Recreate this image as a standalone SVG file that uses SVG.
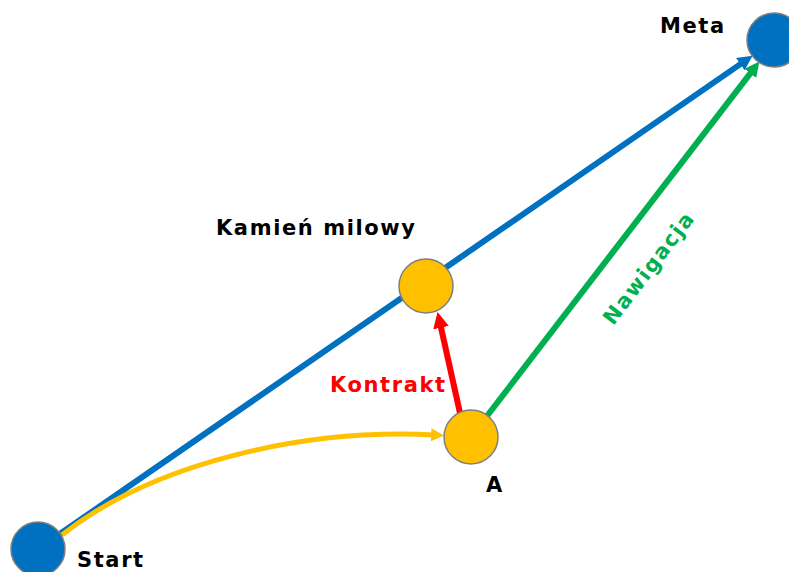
<svg xmlns="http://www.w3.org/2000/svg" width="789" height="572" viewBox="0 0 789 572">
  <style>
    .lbl { font-family: "DejaVu Sans", Verdana, sans-serif; font-weight: bold; font-size: 21px; letter-spacing: 1.6px; }
    .blue-node { fill: #0070C0; stroke: #7F7F7F; stroke-width: 1.5; }
    .gold-node { fill: #FFC000; stroke: #7F7F7F; stroke-width: 1.5; }
    .edge { fill: none; }
  </style>
  <defs>
    <marker id="ah-blue" viewBox="0 0 10 10" refX="3" refY="5" markerUnits="userSpaceOnUse" markerWidth="15" markerHeight="15" orient="auto">
      <path d="M0,0 L10,5 L0,10 z" fill="#0070C0"/>
    </marker>
    <marker id="ah-green" viewBox="0 0 10 10" refX="3" refY="5" markerUnits="userSpaceOnUse" markerWidth="15" markerHeight="15" orient="auto">
      <path d="M0,0 L10,5 L0,10 z" fill="#00B050"/>
    </marker>
    <marker id="ah-red" viewBox="0 0 10 10" refX="3" refY="5" markerUnits="userSpaceOnUse" markerWidth="16" markerHeight="16" orient="auto">
      <path d="M0,0 L10,5 L0,10 z" fill="#FF0000"/>
    </marker>
    <marker id="ah-gold" viewBox="0 0 10 10" refX="3" refY="5" markerUnits="userSpaceOnUse" markerWidth="13" markerHeight="13" orient="auto">
      <path d="M0,0 L10,5 L0,10 z" fill="#FFC000"/>
    </marker>
  </defs>

  <g id="connectors">
    <line class="edge" x1="38" y1="549" x2="744" y2="61.6" stroke="#0070C0" stroke-width="6" marker-end="url(#ah-blue)"/>
    <line class="edge" x1="487" y1="416" x2="753" y2="69.8" stroke="#00B050" stroke-width="6" marker-end="url(#ah-green)"/>
    <line class="edge" x1="460" y1="413" x2="440" y2="323" stroke="#FF0000" stroke-width="6" marker-end="url(#ah-red)"/>
    <path class="edge" d="M62,535 C150,465 300,428 435,435" stroke="#FFC000" stroke-width="5" marker-end="url(#ah-gold)"/>
  </g>

  <g id="node-start">
    <circle class="blue-node" cx="38" cy="549" r="27"/>
    <text class="lbl" x="77" y="567" fill="#000">Start</text>
  </g>
  <g id="node-meta">
    <circle class="blue-node" cx="774" cy="40" r="27"/>
    <text class="lbl" x="660" y="33" fill="#000">Meta</text>
  </g>
  <g id="node-milestone">
    <circle class="gold-node" cx="426" cy="286" r="27"/>
    <text class="lbl" x="216" y="235" fill="#000">Kamień milowy</text>
  </g>
  <g id="node-a">
    <circle class="gold-node" cx="471" cy="437" r="27"/>
    <text class="lbl" x="486" y="492" fill="#000">A</text>
  </g>

  <g id="edge-labels">
    <text class="lbl" x="330" y="392" fill="#FF0000">Kontrakt</text>
    <text class="lbl" transform="translate(649,268) rotate(-52.6)" x="0" y="7" text-anchor="middle" fill="#00B050">Nawigacja</text>
  </g>
</svg>
